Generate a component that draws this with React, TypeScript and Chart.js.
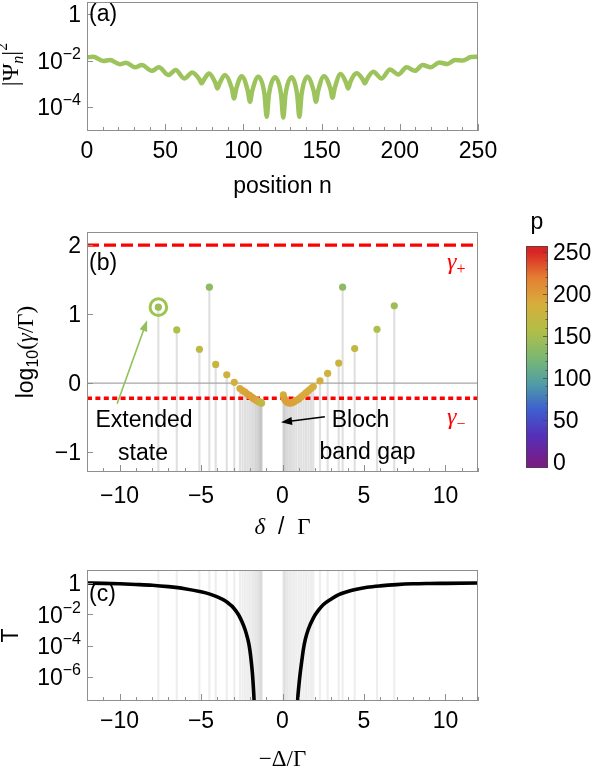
import React, { useEffect, useRef } from 'react';
import { Chart, registerables } from 'chart.js';

Chart.register(...registerables);

// ================= DATA =================
// Panel (a): |Psi_n|^2 (log10) versus position n
const posN = [0, 4, 10.4, 14.7, 21, 25, 30.7, 35, 41.4, 46, 52, 56.7, 62.2, 67.3, 71.8, 73.3, 74.8, 78, 81.9, 83.4, 84.9, 88.2, 92.6, 94, 95.4, 98.9, 102.8, 104.2, 105.6, 109.5, 113.5, 114.9, 116.3, 120.2, 124.1, 125.5, 126.9, 130.9, 134.4, 135.8, 137.2, 140.9, 145, 146.4, 147.8, 151.5, 155.6, 157, 158.4, 162.2, 165.5, 167, 168.5, 172.4, 176.2, 177.7, 179.2, 183, 188.4, 193.7, 199, 204.4, 209.7, 214.6, 219.7, 225.3, 230.4, 235.3, 240.2, 245.5, 250];
const log10Psi2 = [-1.86, -1.84, -2.02, -1.98, -2.16, -2.09, -2.29, -2.19, -2.44, -2.29, -2.62, -2.41, -2.77, -2.51, -2.8, -2.98, -2.82, -2.56, -2.93, -3.2, -2.96, -2.62, -3.2, -3.63, -3.22, -2.67, -3.3, -3.77, -3.32, -2.7, -3.45, -4.42, -3.47, -2.72, -3.47, -4.45, -3.47, -2.72, -3.47, -4.42, -3.45, -2.7, -3.32, -3.77, -3.3, -2.67, -3.2, -3.6, -3.18, -2.58, -2.93, -3.2, -2.9, -2.55, -2.8, -2.98, -2.78, -2.48, -2.77, -2.38, -2.6, -2.29, -2.44, -2.19, -2.29, -2.08, -2.15, -1.98, -2.0, -1.85, -1.84];
const aXMajor = [0, 50, 100, 150, 200, 250];
const aXMinorStep = 10;
const aYExp = [0, -2, -4];
const aLogRange = [-5.03, 0.52];

// Panel (b): modes, log10(gamma/Gamma) versus delta/Gamma, colour = p
const modeDelta = [-7.62, -6.49, -5.1, -4.49, -4.1, -3.42, -2.96, -2.61, -2.45, -2.3, -2.16, -2.03, -1.91, -1.8, -1.7, -1.61, -1.53, -1.46, -1.4, -1.35, -1.31, -1.28, 0.05, 0.1, 0.17, 0.25, 0.35, 0.46, 0.58, 0.71, 0.85, 1.0, 1.15, 1.3, 1.45, 1.6, 1.75, 1.89, 2.3, 2.77, 3.45, 3.69, 4.43, 5.8, 6.86];
const modeLogGamma = [1.1, 0.77, 0.49, 1.39, 0.27, 0.12, 0.01, -0.08, -0.11, -0.13, -0.16, -0.18, -0.2, -0.22, -0.235, -0.25, -0.26, -0.27, -0.275, -0.28, -0.285, -0.29, -0.17, -0.22, -0.25, -0.27, -0.285, -0.29, -0.285, -0.27, -0.25, -0.23, -0.2, -0.17, -0.14, -0.11, -0.08, -0.05, 0.03, 0.14, 0.29, 1.39, 0.5, 0.78, 1.12];
const modeP = [145, 155, 165, 135, 175, 180, 185, 190, 192, 194, 195, 196, 196, 196, 195, 194, 192, 190, 186, 182, 176, 168, 185, 192, 196, 198, 198, 197, 196, 195, 194, 193, 192, 191, 190, 189, 188, 187, 185, 182, 178, 135, 168, 155, 145];
const extendedIndex = 0;
const bXRange = [-12, 12];
const bYRange = [-1.29, 2.19];
const bXMajor = [-10, -5, 0, 5, 10];
const bYMajor = [-1, 0, 1, 2];
const gammaPlus = 2;
const gammaMinus = -0.22;

// Colour bar (p)
const pRange = [0, 250];
const cbRange = [-7, 257];
const cbTicks = [0, 50, 100, 150, 200, 250];

// Panel (c): transmission T (log10) versus -Delta/Gamma
const tDelta = [-12, -11, -10, -9, -8, -7, -6, -5, -4.5, -4, -3.5, -3.2, -3.0, -2.7, -2.5, -2.3, -2.15, -2.04, -1.95, -1.85, -1.78, -1.74, -1.7, -0.4, 0.88, 0.93, 1.0, 1.07, 1.18, 1.28, 1.4, 1.58, 1.89, 2.2, 2.5, 3.0, 3.42, 4.0, 4.55, 5.2, 6.0, 7.0, 8.0, 9.0, 10.0, 12.0];
const tLog10 = [-0.01, -0.03, -0.06, -0.1, -0.15, -0.24, -0.37, -0.57, -0.7, -0.89, -1.15, -1.4, -1.6, -2.03, -2.45, -2.97, -3.5, -4.03, -4.7, -5.72, -6.8, -7.6, -9, null, -9, -7.5, -6.6, -5.9, -5.0, -4.24, -3.6, -2.97, -2.24, -1.75, -1.39, -1.02, -0.76, -0.55, -0.4, -0.28, -0.19, -0.11, -0.06, -0.04, -0.03, -0.01];
const cYExp = [0, -2, -4, -6];
const cLogRange = [-7.47, 0.82];

// ================= STYLE =================
const SANS = '"Liberation Sans", Arial, Helvetica, sans-serif';
const SERIF = '"Liberation Serif", "Times New Roman", serif';
const FS = 23;
const SUB = 16;
const FRAME = '#8f8f8f';
const CURVE_A = '#9dc45c';
const RING = '#9cc44f';
const ARROW_G = '#93c05a';
const RED = '#ff0000';

const RAINBOW: number[][] = [
  [0, 120, 28, 134],
  [0.125, 85, 48, 185],
  [0.25, 62, 95, 208],
  [0.375, 80, 158, 165],
  [0.5, 125, 184, 112],
  [0.625, 178, 190, 72],
  [0.75, 214, 174, 60],
  [0.875, 228, 128, 50],
  [1, 217, 36, 36],
];
function cmap(t: number): string {
  const u = Math.max(0, Math.min(1, t));
  for (let i = 1; i < RAINBOW.length; i++) {
    const a = RAINBOW[i - 1], b = RAINBOW[i];
    if (u <= b[0]) {
      const f = (u - a[0]) / (b[0] - a[0]);
      const c = [1, 2, 3].map((k) => Math.round(a[k] + (b[k] - a[k]) * f));
      return `rgb(${c[0]},${c[1]},${c[2]})`;
    }
  }
  return 'rgb(217,36,36)';
}

const font = (px: number, fam: string, style = '') => `${style} ${px}px ${fam}`.trim();
type Run = { t: string; f: string; dy?: number; c?: string };

function drawRuns(ctx: CanvasRenderingContext2D, runs: Run[], x: number, y: number, align: 'left' | 'center' | 'right' = 'left', rotate = false) {
  ctx.save();
  ctx.translate(x, y);
  if (rotate) ctx.rotate(-Math.PI / 2);
  ctx.textBaseline = 'alphabetic';
  ctx.textAlign = 'left';
  let w = 0;
  for (const r of runs) { ctx.font = r.f; w += ctx.measureText(r.t).width; }
  let cx = align === 'center' ? -w / 2 : align === 'right' ? -w : 0;
  for (const r of runs) {
    ctx.font = r.f;
    ctx.fillStyle = r.c || '#000';
    ctx.fillText(r.t, cx, r.dy || 0);
    cx += ctx.measureText(r.t).width;
  }
  ctx.restore();
}

const fmt = (v: number) => (v < 0 ? '\u2212' + Math.abs(v) : String(v));
const range = (a: number, b: number, s: number) => {
  const out: number[] = [];
  for (let v = a; v <= b + 1e-9; v += s) out.push(Math.round(v * 1000) / 1000);
  return out;
};
const expLabel = (e: number): Run[] =>
  e === 0 ? [{ t: '1', f: font(FS, SANS) }] : [{ t: '10', f: font(FS, SANS) }, { t: fmt(e), f: font(SUB, SANS), dy: -10 }];

type Deco = {
  xMajor: number[]; xMinor: number[]; xLabelDy: number;
  yTicks: { v: number; label: Run[] }[];
  xTitle: Run[]; xTitleDy: number;
  yTitle: Run[]; yTitleX: number; yTitleDy: number;
  panel: string; panelDy: number;
  extra?: (chart: any) => void;
};

function makeDeco(cfg: Deco) {
  return {
    id: 'deco',
    afterDatasetsDraw(chart: any) {
      const { ctx, chartArea: a, scales } = chart;
      const xs = scales.x, ys = scales.y;
      ctx.save();
      if (cfg.extra) cfg.extra(chart);
      ctx.strokeStyle = FRAME;
      ctx.lineWidth = 1;
      ctx.strokeRect(a.left + 0.5, a.top + 0.5, a.right - a.left - 1, a.bottom - a.top - 1);
      ctx.beginPath();
      for (const v of cfg.xMinor) {
        const p = Math.round(xs.getPixelForValue(v)) + 0.5;
        ctx.moveTo(p, a.bottom); ctx.lineTo(p, a.bottom - 4);
      }
      for (const v of cfg.xMajor) {
        const p = Math.round(xs.getPixelForValue(v)) + 0.5;
        ctx.moveTo(p, a.bottom); ctx.lineTo(p, a.bottom - 7);
      }
      for (const t of cfg.yTicks) {
        const p = Math.round(ys.getPixelForValue(t.v)) + 0.5;
        ctx.moveTo(a.left, p); ctx.lineTo(a.left + 6, p);
      }
      ctx.stroke();
      for (const v of cfg.xMajor) {
        drawRuns(ctx, [{ t: fmt(v), f: font(FS, SANS) }], xs.getPixelForValue(v), a.bottom + cfg.xLabelDy, 'center');
      }
      for (const t of cfg.yTicks) {
        drawRuns(ctx, t.label, a.left - 6, ys.getPixelForValue(t.v) + 8.3, 'right');
      }
      drawRuns(ctx, cfg.xTitle, (a.left + a.right) / 2, a.bottom + cfg.xTitleDy, 'center');
      drawRuns(ctx, cfg.yTitle, cfg.yTitleX, (a.top + a.bottom) / 2 + cfg.yTitleDy, 'center', true);
      ctx.font = font(FS, SANS);
      ctx.fillStyle = '#000';
      ctx.textBaseline = 'middle';
      ctx.textAlign = 'left';
      ctx.fillText(cfg.panel, a.left + 2, a.top + cfg.panelDy);
      ctx.restore();
    },
  };
}

function arrow(ctx: CanvasRenderingContext2D, x0: number, y0: number, x1: number, y1: number, color: string) {
  const ang = Math.atan2(y1 - y0, x1 - x0);
  const L = 11, W = 4;
  ctx.save();
  ctx.strokeStyle = color;
  ctx.fillStyle = color;
  ctx.lineWidth = 1.6;
  ctx.beginPath();
  ctx.moveTo(x0, y0);
  ctx.lineTo(x1 - L * 0.8 * Math.cos(ang), y1 - L * 0.8 * Math.sin(ang));
  ctx.stroke();
  ctx.beginPath();
  ctx.moveTo(x1, y1);
  ctx.lineTo(x1 - L * Math.cos(ang) + W * Math.sin(ang), y1 - L * Math.sin(ang) - W * Math.cos(ang));
  ctx.lineTo(x1 - L * Math.cos(ang) - W * Math.sin(ang), y1 - L * Math.sin(ang) + W * Math.cos(ang));
  ctx.closePath();
  ctx.fill();
  ctx.restore();
}

// annotation layout for panel (b), in data units
const bTexts = [
  { t: 'Extended', x: -8.5, y: -0.64 },
  { t: 'state', x: -8.56, y: -1.116 },
  { t: 'Bloch', x: 4.79, y: -0.64 },
  { t: 'band gap', x: 5.22, y: -1.1 },
];
const bGammaLabels = [
  { sub: '+', x: 10.1, y: 1.66 },
  { sub: '\u2212', x: 10.1, y: -0.59 },
];
const bArrows = [
  { from: [-10.15, -0.3], to: [-8.31, 0.91], color: ARROW_G },
  { from: [2.6, -0.49], to: [-0.09, -0.57], color: '#000' },
];

const baseOpts = (padding: any) => ({
  responsive: false,
  animation: false as const,
  devicePixelRatio: 1,
  layout: { padding },
  plugins: { legend: { display: false }, tooltip: { enabled: false } },
  events: [] as any[],
});

export default function App() {
  const aRef = useRef<HTMLCanvasElement>(null);
  const bRef = useRef<HTMLCanvasElement>(null);
  const cbRef = useRef<HTMLCanvasElement>(null);
  const cRef = useRef<HTMLCanvasElement>(null);

  useEffect(() => {
    const charts: Chart[] = [];

    // ---------- (a) ----------
    charts.push(new Chart(aRef.current as HTMLCanvasElement, {
      type: 'line',
      data: {
        datasets: [{
          data: posN.map((n, i) => ({ x: n, y: Math.pow(10, log10Psi2[i]) })),
          borderColor: CURVE_A, borderWidth: 4.5, pointRadius: 0, fill: false,
          cubicInterpolationMode: 'monotone',
        }],
      },
      options: {
        ...baseOpts({ left: 87, top: 2, right: 122, bottom: 69 }),
        scales: {
          x: { type: 'linear', min: aXMajor[0], max: aXMajor[aXMajor.length - 1], display: false },
          y: { type: 'logarithmic', min: Math.pow(10, aLogRange[0]), max: Math.pow(10, aLogRange[1]), display: false },
        },
      } as any,
      plugins: [makeDeco({
        xMajor: aXMajor, xMinor: range(aXMajor[0], aXMajor[aXMajor.length - 1], aXMinorStep), xLabelDy: 27,
        yTicks: aYExp.map((e) => ({ v: Math.pow(10, e), label: expLabel(e) })),
        xTitle: [{ t: 'position n', f: font(FS, SANS) }], xTitleDy: 62,
        yTitle: [
          { t: '|\u03A8', f: font(FS + 1, SERIF) },
          { t: 'n', f: font(SUB, SERIF, 'italic'), dy: 5 },
          { t: '|', f: font(FS + 1, SERIF) },
          { t: '2', f: font(SUB, SERIF), dy: -11 },
        ], yTitleX: 18, yTitleDy: -2,
        panel: '(a)', panelDy: 13,
      })],
    }));

    // ---------- (b) ----------
    charts.push(new Chart(bRef.current as HTMLCanvasElement, {
      type: 'line',
      data: {
        datasets: [
          {
            type: 'bar',
            data: modeDelta.map((d, i) => ({ x: d, y: [bYRange[0], modeLogGamma[i]] })),
            backgroundColor: 'rgba(180,180,180,0.42)', borderWidth: 0, barThickness: 1.5, order: 6,
          } as any,
          {
            data: [{ x: bXRange[0], y: 0 }, { x: bXRange[1], y: 0 }],
            borderColor: '#a6a6a6', borderWidth: 1.2, pointRadius: 0, order: 5,
          },
          {
            data: [{ x: bXRange[0], y: gammaPlus }, { x: bXRange[1], y: gammaPlus }],
            borderColor: RED, borderWidth: 3.4, borderDash: [12, 5], pointRadius: 0, order: 4,
          },
          {
            data: [{ x: bXRange[0], y: gammaMinus }, { x: bXRange[1], y: gammaMinus }],
            borderColor: RED, borderWidth: 3.4, borderDash: [5, 3.4], pointRadius: 0, order: 4,
          },
          {
            data: modeDelta.map((d, i) => ({ x: d, y: modeLogGamma[i] })),
            showLine: false, pointRadius: 3.6, pointBorderWidth: 0,
            pointBackgroundColor: modeP.map((p) => cmap((p - pRange[0]) / (pRange[1] - pRange[0]))),
            order: 2,
          },
          {
            data: [{ x: modeDelta[extendedIndex], y: modeLogGamma[extendedIndex] }],
            showLine: false, pointRadius: 8.3, pointBorderWidth: 3, pointBorderColor: RING,
            pointBackgroundColor: 'rgba(0,0,0,0)', order: 1,
          },
        ],
      },
      options: {
        ...baseOpts({ left: 87, top: 32, right: 22, bottom: 68 }),
        scales: {
          x: { type: 'linear', min: bXRange[0], max: bXRange[1], display: false, offset: false },
          y: { type: 'linear', min: bYRange[0], max: bYRange[1], display: false },
        },
      } as any,
      plugins: [makeDeco({
        xMajor: bXMajor, xMinor: range(bXRange[0], bXRange[1], 1), xLabelDy: 31,
        yTicks: bYMajor.map((v) => ({ v, label: [{ t: fmt(v), f: font(FS, SANS) }] })),
        xTitle: [
          { t: '\u03B4', f: font(FS, SERIF, 'italic') },
          { t: '  /  ', f: font(FS, SANS) },
          { t: '\u0393', f: font(FS, SERIF) },
        ], xTitleDy: 62,
        yTitle: [
          { t: 'log', f: font(FS, SANS) },
          { t: '10', f: font(SUB, SANS), dy: 5 },
          { t: '(', f: font(FS, SERIF) },
          { t: '\u03B3', f: font(FS, SERIF, 'italic') },
          { t: '/\u0393)', f: font(FS, SERIF) },
        ], yTitleX: 33, yTitleDy: 0,
        panel: '(b)', panelDy: 31.5,
        extra: (chart: any) => {
          const { ctx, scales } = chart;
          const X = (v: number) => scales.x.getPixelForValue(v);
          const Y = (v: number) => scales.y.getPixelForValue(v);
          for (const t of bTexts) drawRuns(ctx, [{ t: t.t, f: font(FS, SANS) }], X(t.x), Y(t.y), 'center');
          for (const g of bGammaLabels) {
            drawRuns(ctx, [
              { t: '\u03B3', f: font(FS + 1, SERIF, 'italic'), c: RED },
              { t: g.sub, f: font(SUB, SERIF), dy: 5, c: RED },
            ], X(g.x), Y(g.y), 'left');
          }
          for (const a of bArrows) arrow(ctx, X(a.from[0]), Y(a.from[1]), X(a.to[0]), Y(a.to[1]), a.color);
        },
      })],
    }));

    // ---------- colour bar ----------
    charts.push(new Chart(cbRef.current as HTMLCanvasElement, {
      type: 'bar',
      data: {
        labels: ['p'],
        datasets: [{
          data: [[cbRange[0], cbRange[1]]] as any,
          borderWidth: 0, barPercentage: 1, categoryPercentage: 1,
          backgroundColor: (c: any) => {
            const ch = c.chart;
            if (!ch.chartArea) return cmap(0.5);
            const y0 = ch.scales.y.getPixelForValue(pRange[0]);
            const y1 = ch.scales.y.getPixelForValue(pRange[1]);
            const g = ch.ctx.createLinearGradient(0, y0, 0, y1);
            for (let i = 0; i <= 40; i++) g.addColorStop(i / 40, cmap(i / 40));
            return g;
          },
        }],
      },
      options: {
        ...baseOpts({ left: 26, top: 46, right: 52, bottom: 12 }),
        scales: {
          x: { display: false },
          y: { type: 'linear', min: cbRange[0], max: cbRange[1], display: false },
        },
      } as any,
      plugins: [{
        id: 'cbdeco',
        afterDatasetsDraw(chart: any) {
          const { ctx, chartArea: a, scales } = chart;
          ctx.save();
          ctx.strokeStyle = 'rgba(70,70,70,0.75)';
          ctx.lineWidth = 1;
          ctx.strokeRect(a.left + 0.5, a.top + 0.5, a.right - a.left - 1, a.bottom - a.top - 1);
          ctx.beginPath();
          for (const v of range(pRange[0], pRange[1], 10)) {
            const p = Math.round(scales.y.getPixelForValue(v)) + 0.5;
            const major = cbTicks.includes(v);
            ctx.moveTo(a.right, p); ctx.lineTo(a.right - (major ? 5 : 2.5), p);
          }
          ctx.stroke();
          for (const v of cbTicks) {
            drawRuns(ctx, [{ t: String(v), f: font(FS, SANS) }], a.right + 5, scales.y.getPixelForValue(v) + 8.3, 'left');
          }
          drawRuns(ctx, [{ t: 'p', f: font(FS, SANS) }], (a.left + a.right) / 2, a.top - 17, 'center');
          ctx.restore();
        },
      }],
    }));

    // ---------- (c) ----------
    const cMin = Math.pow(10, cLogRange[0]);
    const cMax = Math.pow(10, cLogRange[1]);
    charts.push(new Chart(cRef.current as HTMLCanvasElement, {
      type: 'line',
      data: {
        datasets: [
          {
            type: 'bar',
            data: modeDelta.map((d) => ({ x: d, y: [cMin, cMax] })),
            backgroundColor: 'rgba(190,190,190,0.26)', borderWidth: 0, barThickness: 1.5, order: 3,
          } as any,
          {
            data: tDelta.map((d, i) => ({ x: d, y: tLog10[i] === null ? null : Math.pow(10, tLog10[i] as number) })),
            borderColor: '#000', borderWidth: 3.6, pointRadius: 0, spanGaps: false, fill: false,
            cubicInterpolationMode: 'monotone', order: 1,
          },
        ],
      },
      options: {
        ...baseOpts({ left: 87, top: 30, right: 122, bottom: 69 }),
        scales: {
          x: { type: 'linear', min: bXRange[0], max: bXRange[1], display: false, offset: false },
          y: { type: 'logarithmic', min: cMin, max: cMax, display: false },
        },
      } as any,
      plugins: [makeDeco({
        xMajor: bXMajor, xMinor: range(bXRange[0], bXRange[1], 1), xLabelDy: 27,
        yTicks: cYExp.map((e) => ({ v: Math.pow(10, e), label: expLabel(e) })),
        xTitle: [{ t: '\u2212\u0394/\u0393', f: font(FS, SERIF) }], xTitleDy: 65,
        yTitle: [{ t: 'T', f: font(FS, SANS) }], yTitleX: 18, yTitleDy: 0,
        panel: '(c)', panelDy: 25,
      })],
    }));

    return () => charts.forEach((c) => c.destroy());
  }, []);

  const abs = (left: number, top: number) => ({ position: 'absolute' as const, left, top, display: 'block' });
  return (
    <div style={{ position: 'absolute', left: 0, top: 0, width: 600, height: 770, background: '#fff', overflow: 'hidden' }}>
      <canvas ref={aRef} width={600} height={200} style={abs(0, 0)} />
      <canvas ref={bRef} width={500} height={340} style={abs(0, 200)} />
      <canvas ref={cbRef} width={100} height={280} style={abs(500, 200)} />
      <canvas ref={cRef} width={600} height={230} style={abs(0, 540)} />
    </div>
  );
}
